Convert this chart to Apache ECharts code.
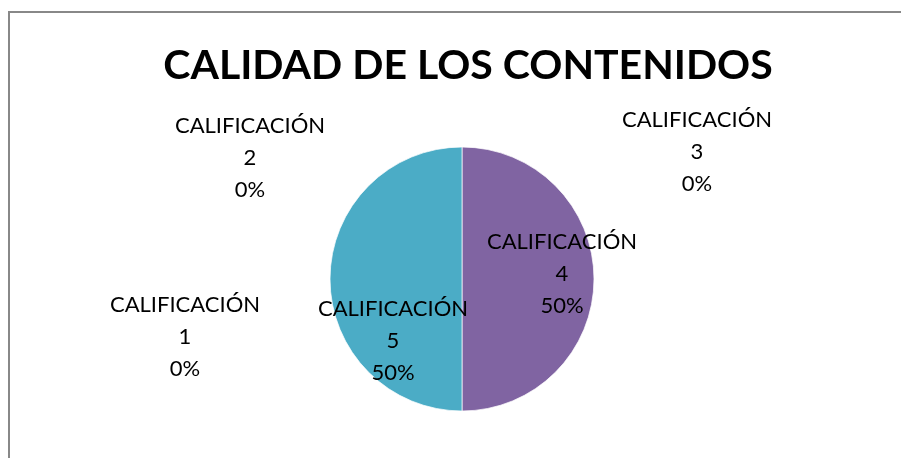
<!DOCTYPE html>
<html><head><meta charset="utf-8">
<script src="https://cdn.jsdelivr.net/npm/echarts@6/dist/echarts.min.js"></script>
<style>html,body{margin:0;padding:0;background:#fff}#c{width:901px;height:458px}</style>
</head><body><div id="c"></div>
<script>
const titleText = 'CALIDAD DE LOS CONTENIDOS';
const categories = ['CALIFICACIÓN 1', 'CALIFICACIÓN 2', 'CALIFICACIÓN 3', 'CALIFICACIÓN 4', 'CALIFICACIÓN 5'];
const values = [0, 0, 0, 1, 1];
const colors = ['#4F81BD', '#C0504D', '#9BBB59', '#8064A2', '#4BACC6'];
// label anchor points (layout only)
const labelPos = [[185, 337], [250, 158], [697, 152], [562, 274], [393, 341]];

const chart = echarts.init(document.getElementById('c'), null, {renderer: 'canvas'});
chart.setOption({
  animation: false,
  title: {
    text: titleText, left: 463, top: 40, textAlign: 'center',
    textStyle: {fontFamily: 'Lato', fontWeight: 'bold', fontSize: 41, color: '#000'}
  },
  graphic: [
    {type: 'polyline', shape: {points: [[9, 458], [9, 12], [901, 12]]}, style: {stroke: '#888', lineWidth: 2, fill: null}}
  ],
  series: [{
    type: 'pie',
    center: [462, 279],
    radius: 132,
    startAngle: 90,
    clockwise: true,
    avoidLabelOverlap: false,
    minShowLabelAngle: 0,
    stillShowZeroSum: true,
    itemStyle: {borderColor: '#fff', borderWidth: 0.7},
    label: {
      show: true, position: 'outside',
      fontFamily: 'Lato', fontSize: 22, color: '#000', lineHeight: 32, align: 'center',
      formatter: function (p) { return p.name.replace(' ', '\n') + '\n' + Math.round(p.percent) + '%'; }
    },
    labelLine: {show: false},
    labelLayout: function (p) {
      const pos = labelPos[p.dataIndex];
      return {x: pos[0], y: pos[1], align: 'center', verticalAlign: 'middle'};
    },
    data: categories.map((c, i) => ({name: c, value: values[i], itemStyle: {color: colors[i]}}))
  }]
});
</script></body></html>
